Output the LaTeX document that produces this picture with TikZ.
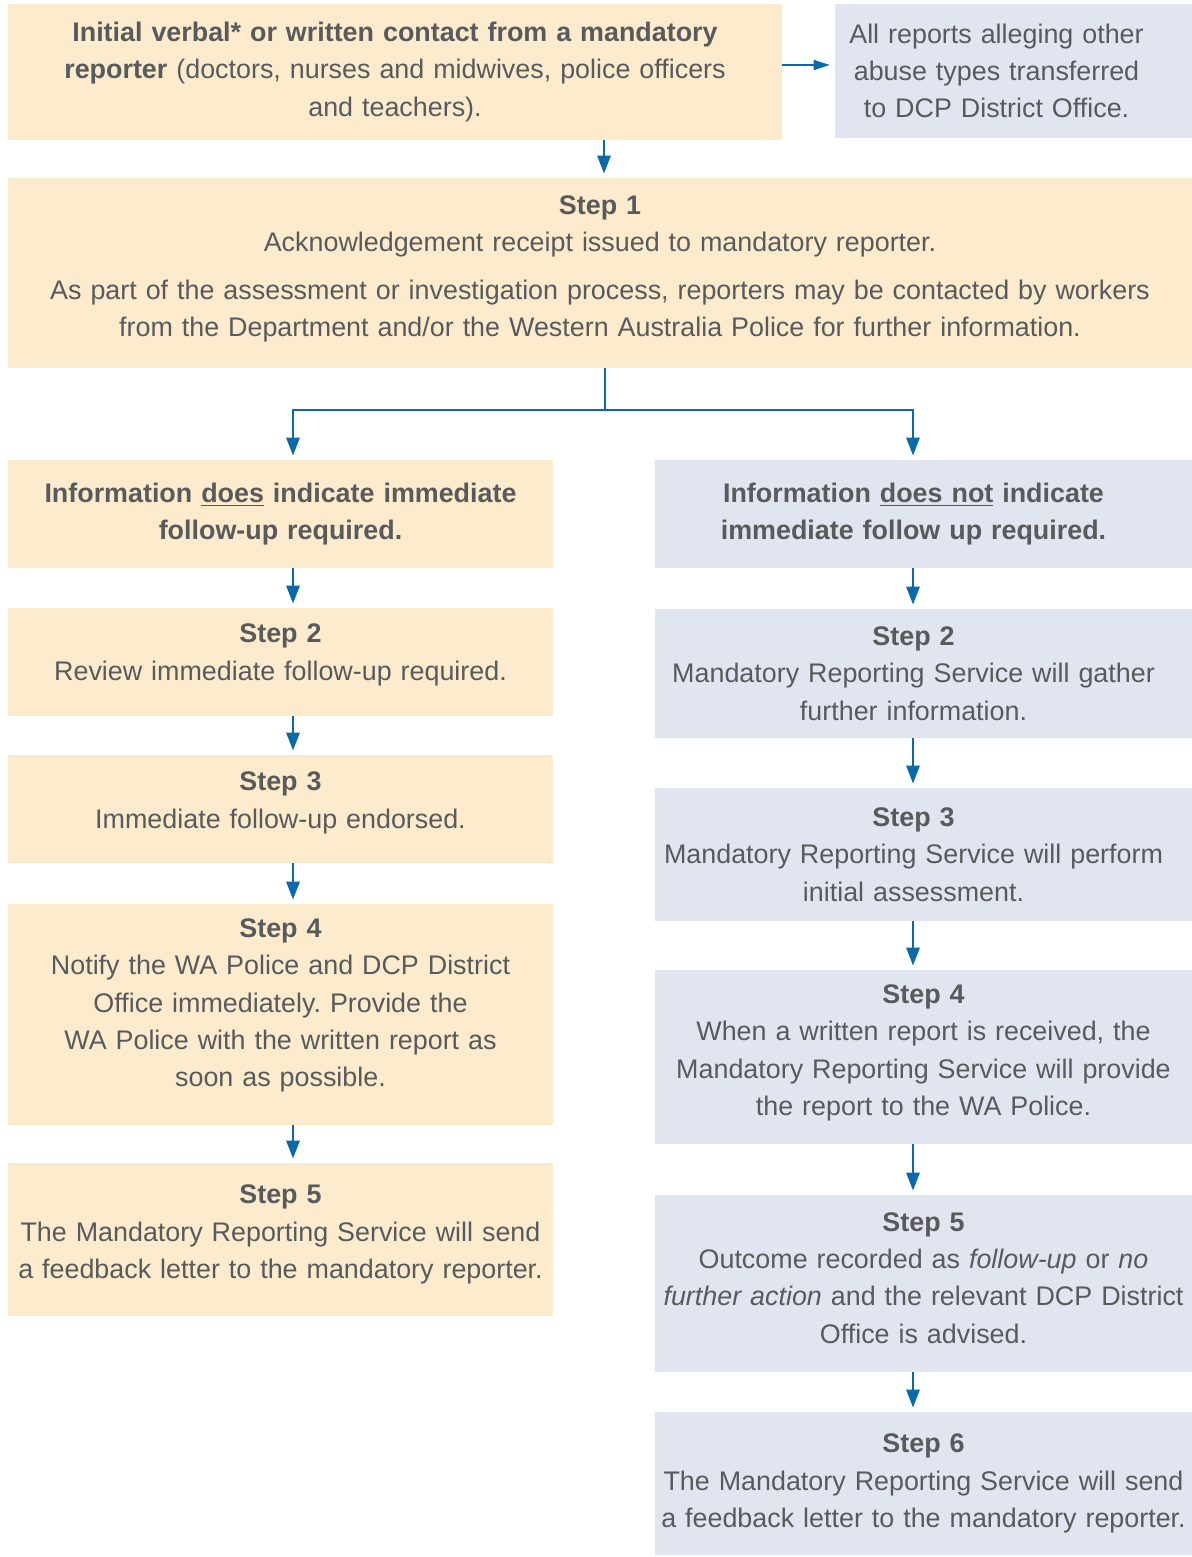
\documentclass[tikz,border=0pt]{standalone}
\usepackage{fontspec}
\setmainfont{Liberation Sans}
\frenchspacing
\usetikzlibrary{arrows.meta}

\definecolor{boxorange}{HTML}{FDEBCD}
\definecolor{boxgrey}{HTML}{E1E5F0}
\definecolor{flowblue}{HTML}{0A69A8}
\definecolor{txtgrey}{HTML}{595A5C}

\begin{document}
\begin{tikzpicture}[x=0.02cm, y=-0.02cm,
	flowbox/.style={rectangle, inner sep=0pt, align=center, text=txtgrey, font=\fontsize{15.3}{21.2}\selectfont},
	warmbox/.style={flowbox, fill=boxorange},
	coolbox/.style={flowbox, fill=boxgrey},
	lbox/.style={warmbox, minimum width=10.9cm, text width=10.9cm},
	rbox/.style={coolbox, minimum width=10.74cm, text width=10.74cm},
	toleft/.style={execute at begin node={\leftskip=0pt plus 1fill\rightskip=#1 plus 1fill}},
	lift/.style={execute at end node={\endgraf\vspace{#1}}},
	flow/.style={draw=flowblue, line width=1.6pt, -{Triangle[length=0.36cm, width=0.26cm]}, shorten >=0.08cm},
	flowline/.style={draw=flowblue, line width=1.6pt},
	thinflow/.style={draw=flowblue, line width=0.8pt, -{Triangle[length=0.32cm, width=0.2cm]}, shorten >=0.1cm}]

	\useasboundingbox (0,0) rectangle (1192,1557);

	\coordinate (midcol) at (604, 0);
	\coordinate (lcol) at (293, 0);
	\coordinate (rcol) at (913, 0);
	\coordinate (side) at (0, 65);
	\coordinate (split) at (605, 410);

	\node[warmbox, minimum width=15.48cm, text width=15.48cm, minimum height=2.72cm] (init) at (395, 72)
		{\textbf{Initial verbal* or written contact from a mandatory}\\
		\textbf{reporter} (doctors, nurses and midwives, police officers\\
		and teachers).};
	\node[coolbox, minimum width=7.14cm, text width=7.14cm, minimum height=2.68cm, toleft=0.68cm] (other) at (1013.5, 71)
		{All reports alleging other\\ abuse types transferred\\ to DCP District Office.};

	\node[warmbox, minimum width=23.68cm, text width=23.68cm, minimum height=3.8cm, lift=0.16cm] (step1) at (600, 273)
		{\textbf{Step 1}\\
		Acknowledgement receipt issued to mandatory reporter.\\[0.2cm]
		As part of the assessment or investigation process, reporters may be contacted by workers\\
		from the Department and/or the Western Australia Police for further information.};

	\node[lbox, minimum height=2.16cm] (yes) at (280.5, 514)
		{\textbf{Information \underline{does} indicate immediate}\\ \textbf{follow-up required.}};
	\node[lbox, minimum height=2.16cm, lift=0.28cm] (ltwo) at (280.5, 662)
		{\textbf{Step 2}\\ Review immediate follow-up required.};
	\node[lbox, minimum height=2.16cm, lift=0.24cm] (lthree) at (280.5, 809)
		{\textbf{Step 3}\\ Immediate follow-up endorsed.};
	\node[lbox, minimum height=4.42cm, lift=0.36cm] (lfour) at (280.5, 1014.5)
		{\textbf{Step 4}\\ Notify the WA Police and DCP District\\ Office immediately. Provide the\\
		WA Police with the written report as\\ soon as possible.};
	\node[lbox, minimum height=3.06cm, lift=0.2cm] (lfive) at (280.5, 1239.5)
		{\textbf{Step 5}\\ The Mandatory Reporting Service will send\\ a feedback letter to the mandatory reporter.};

	\node[rbox, minimum height=2.16cm, toleft=0.4cm] (no) at (923.5, 514)
		{\textbf{Information \underline{does not} indicate}\\ \textbf{immediate follow up required.}};
	\node[rbox, minimum height=2.58cm, toleft=0.4cm] (rtwo) at (923.5, 673.5)
		{\textbf{Step 2}\\ Mandatory Reporting Service will gather\\ further information.};
	\node[rbox, minimum height=2.66cm, toleft=0.4cm] (rthree) at (923.5, 854.5)
		{\textbf{Step 3}\\ Mandatory Reporting Service will perform\\ initial assessment.};
	\node[rbox, minimum height=3.48cm, lift=0.16cm] (rfour) at (923.5, 1057)
		{\textbf{Step 4}\\ When a written report is received, the\\ Mandatory Reporting Service will provide\\ the report to the WA Police.};
	\node[rbox, minimum height=3.54cm, lift=0.22cm] (rfive) at (923.5, 1283.5)
		{\textbf{Step 5}\\ Outcome recorded as \textit{follow-up} or \textit{no}\\ \textit{further action} and the relevant DCP District\\ Office is advised.};
	\node[rbox, minimum height=2.86cm] (rsix) at (923.5, 1483.5)
		{\textbf{Step 6}\\ The Mandatory Reporting Service will send\\ a feedback letter to the mandatory reporter.};

	\draw[thinflow] (init.east |- side) -- (other.west |- side);
	\draw[flow] (init.south -| midcol) -- (step1.north -| midcol);

	\draw[flowline] (step1.south -| split) -- (split);
	\draw[flow] (split) -| (yes.north -| lcol);
	\draw[flow] (split) -| (no.north -| rcol);

	\draw[flow] (yes.south -| lcol) -- (ltwo.north -| lcol);
	\draw[flow] (ltwo.south -| lcol) -- (lthree.north -| lcol);
	\draw[flow] (lthree.south -| lcol) -- (lfour.north -| lcol);
	\draw[flow] (lfour.south -| lcol) -- (lfive.north -| lcol);

	\draw[flow] (no.south -| rcol) -- (rtwo.north -| rcol);
	\draw[flow] (rtwo.south -| rcol) -- (rthree.north -| rcol);
	\draw[flow] (rthree.south -| rcol) -- (rfour.north -| rcol);
	\draw[flow] (rfour.south -| rcol) -- (rfive.north -| rcol);
	\draw[flow] (rfive.south -| rcol) -- (rsix.north -| rcol);

\end{tikzpicture}
\end{document}
